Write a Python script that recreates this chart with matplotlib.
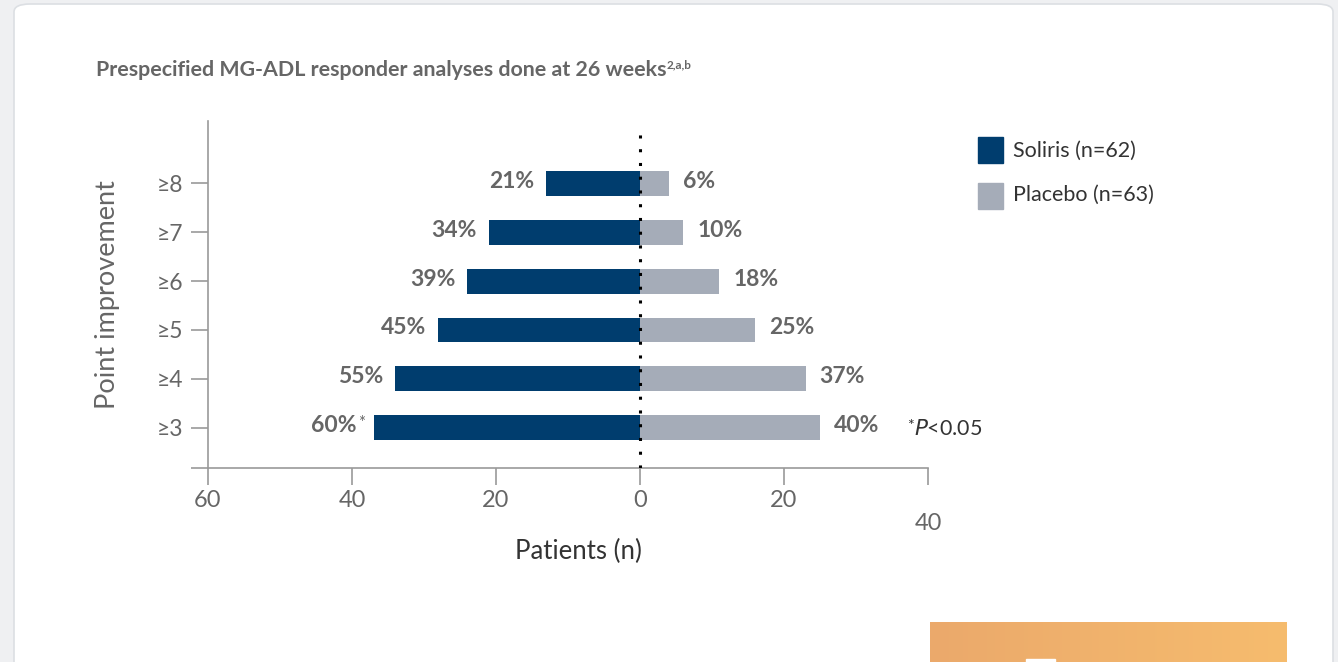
import matplotlib.pyplot as plt
import numpy as np
from matplotlib.patches import FancyBboxPatch, Rectangle
from matplotlib.colors import LinearSegmentedColormap

plt.rcParams['font.family'] = ['Lato', 'DejaVu Sans']

# data
categories = ['≥3', '≥4', '≥5', '≥6', '≥7', '≥8']
levels = [3, 4, 5, 6, 7, 8]
soliris_n = [37, 34, 28, 24, 21, 13]
placebo_n = [25, 23, 16, 11, 6, 4]
soliris_pct = ['60%', '55%', '45%', '39%', '34%', '21%']
placebo_pct = ['40%', '37%', '25%', '18%', '10%', '6%']
xticks = [-60, -40, -20, 0, 20, 40]

NAVY = '#003d6e'
GREY = '#a5acb8'
TXT = '#666666'
DARK = '#333333'

fig = plt.figure(figsize=(13.38, 6.62), dpi=100)
fig.patch.set_facecolor('#eff0f2')

# card background
card = FancyBboxPatch((14 / 1338, -0.05), 1319 / 1338, 1 - 4 / 662 + 0.05,
                      boxstyle='round,pad=0,rounding_size=0.012',
                      transform=fig.transFigure, facecolor='white',
                      edgecolor='#dcdfe3', linewidth=1.2, zorder=-5)
fig.patches.append(card)

# orange button stub at the bottom right
bax = fig.add_axes([930 / 1338, 0, 357 / 1338, 40 / 662])
grad = np.linspace(0, 1, 256).reshape(1, -1)
cmap = LinearSegmentedColormap.from_list('btn', ['#eba96b', '#f6bc6e'])
bax.imshow(grad, aspect='auto', cmap=cmap, extent=[0, 1, 0, 1])
bax.add_patch(Rectangle((0.27, 0), 0.08, 0.08, color='white'))
bax.set_axis_off()

ax = fig.add_axes([208 / 1338, 1 - 468 / 662, 720 / 1338, 347 / 662])
ax.set_facecolor('none')

ax.barh(levels, [-v for v in soliris_n], height=0.51, color=NAVY, zorder=2)
ax.barh(levels, placebo_n, height=0.51, color=GREY, zorder=2)

ax.set_xlim(-60, 40)
ax.set_ylim(2.18, 9.27)

ax.axvline(0, ymin=0, ymax=0.97, color='black', linestyle=(0, (1, 3.5)),
           linewidth=2.2, zorder=3)

for y, s, p, sl, pl in zip(levels, soliris_n, placebo_n, soliris_pct, placebo_pct):
    off = -12
    if y == 3:
        ax.annotate('*', (-s, y), xytext=(-9, 5), textcoords='offset pixels',
                    ha='right', va='center', fontsize=12, color=TXT)
        off = -17
    ax.annotate(sl, (-s, y), xytext=(off, 2), textcoords='offset pixels',
                ha='right', va='center', fontsize=16.5, fontweight='bold', color=TXT)
    ax.annotate(pl, (p, y), xytext=(14, 2), textcoords='offset pixels',
                ha='left', va='center', fontsize=16.5, fontweight='bold', color=TXT)

ax.text(0.971, 3.04, '*', transform=ax.get_yaxis_transform(), ha='left', va='center',
        fontsize=11.5, color=DARK)
ax.text(0.981, 2.98, r'$\it{P}$<0.05', transform=ax.get_yaxis_transform(),
        ha='left', va='center', fontsize=15.5, color=DARK)

# axes styling
for side in ['top', 'right']:
    ax.spines[side].set_visible(False)
for side in ['left', 'bottom']:
    ax.spines[side].set_color('#9a9a9a')
    ax.spines[side].set_linewidth(1.2)

ax.set_yticks([2.18] + levels)
ax.set_yticklabels([''] + categories)
ax.set_xticks(xticks)
ax.set_xticklabels([str(abs(v)) for v in xticks[:-1]] + [''])
ax.text(40, -0.16, '40', transform=ax.get_xaxis_transform(), ha='center',
        va='center', fontsize=17, color=TXT)
ax.tick_params(axis='both', length=12, width=1.2, color='#9a9a9a',
               labelcolor=TXT)
ax.tick_params(axis='x', pad=4, labelsize=17)
ax.tick_params(axis='y', pad=6, labelsize=16.5)

ax.set_xlabel('Patients (n)', fontsize=18.5, color=DARK)
ax.xaxis.set_label_coords(0.515, -0.205)
ax.set_ylabel('Point improvement', fontsize=19.5, color=TXT)
ax.yaxis.set_label_coords(-0.122, 0.5)

fig.text(96 / 1338, 1 - 70 / 662, 'Prespecified MG-ADL responder analyses done at 26 weeks',
         fontsize=15.4, fontweight='bold', color=TXT, va='center')
fig.text(667 / 1338, 1 - 65 / 662, '2,a,b', fontsize=8.5, fontweight='bold',
         color=TXT, va='center')

# legend
for i, (name, col) in enumerate([('Soliris (n=62)', NAVY), ('Placebo (n=63)', GREY)]):
    ytop = 137 + i * 46
    fig.patches.append(Rectangle((978 / 1338, 1 - (ytop + 26) / 662), 25 / 1338, 26 / 662,
                                 transform=fig.transFigure, color=col))
    fig.text(1013 / 1338, 1 - (ytop + 14 - i * 2) / 662, name, fontsize=15.5, color=DARK,
             va='center')

fig.savefig('out.png', dpi=100)
